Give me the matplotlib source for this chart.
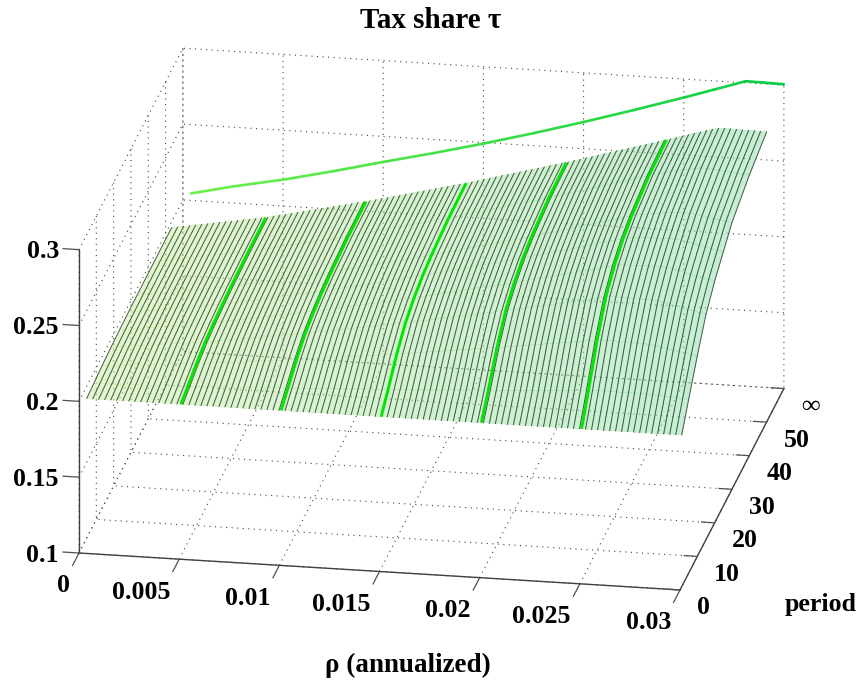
import numpy as np
import matplotlib
matplotlib.use("Agg")
import matplotlib.pyplot as plt
from matplotlib.colors import LinearSegmentedColormap
from matplotlib.transforms import Affine2D
from mpl_toolkits.mplot3d import proj3d

# ---- data ----
RHO_TICKS = [0, 0.005, 0.01, 0.015, 0.02, 0.025, 0.03]
RHO_LABELS = ["0", "0.005", "0.01", "0.015", "0.02", "0.025", "0.03"]
PERIOD_TICKS = [0, 10, 20, 30, 40, 50, 60]
PERIOD_LABELS = ["0", "10", "20", "30", "40", "50", "\u221e"]
TAU_TICKS = [0.1, 0.15, 0.2, 0.25, 0.3]
TAU_LABELS = ["0.1", "0.15", "0.2", "0.25", "0.3"]

PERIODS = [1, 5, 10, 15, 20, 25, 30, 40, 50]
RHO_MESH = [round(0.0003 * k, 4) for k in range(1, 101)]
# tau above 0.2, in units of 1e-4, one list per period, one entry per mesh line
RISE_P1 = [0] * 100
RISE_P5 = [8,9,11,12,13,15,16,17,19,20,21,23,24,25,27,28,30,31,33,35,37,38,40,42,44,45,47,49,51,52,54,56,58,59,61,63,65,67,69,71,73,75,77,79,81,83,85,87,89,91,93,95,97,99,101,103,105,108,110,112,114,116,118,120,122,125,127,129,131,134,136,138,140,143,145,147,149,152,154,156,159,161,163,165,166,166,166,166,166,166,166,165,163,161,159,156,154,151,149,146]
RISE_P10 = [19,22,25,28,31,35,38,41,44,47,50,54,57,60,63,66,70,74,78,82,86,90,94,98,102,107,111,115,119,123,127,132,135,140,144,149,153,158,163,167,172,176,181,185,190,195,199,204,208,213,218,223,228,233,238,243,248,253,258,263,268,273,278,283,288,293,298,303,308,314,319,324,330,335,341,346,351,357,362,368,373,378,384,389,388,388,387,385,384,383,380,378,372,365,358,351,344,337,330,323]
RISE_P15 = [27,32,36,41,46,50,54,59,64,69,73,78,82,86,91,96,101,107,113,118,124,131,137,142,148,154,160,167,172,178,184,190,196,202,209,216,222,228,235,242,248,255,262,268,275,282,288,294,301,308,316,322,330,337,344,352,358,366,373,380,388,394,402,409,416,424,430,439,446,454,462,469,477,485,493,500,508,516,524,532,539,547,555,562,563,563,562,561,560,560,558,555,547,538,529,519,511,502,493,484]
RISE_P20 = [32,38,42,48,54,59,64,70,75,81,86,91,97,102,107,113,118,126,133,139,146,154,161,167,174,182,189,196,202,210,217,224,230,238,246,254,261,269,277,285,292,300,308,315,323,331,339,346,354,362,371,379,388,396,405,414,422,430,439,447,456,464,473,482,490,498,506,516,525,534,543,552,562,570,580,589,598,607,616,626,634,643,653,662,664,665,665,666,666,667,666,665,657,648,639,629,620,612,602,593]
RISE_P25 = [35,41,47,53,59,65,70,77,83,89,94,100,106,112,118,124,130,138,146,153,161,169,177,184,192,200,208,216,223,231,238,246,253,261,270,279,287,296,304,313,321,330,339,347,356,364,373,381,390,399,408,417,427,436,445,455,464,473,483,492,502,510,520,530,539,548,557,568,577,588,598,607,618,627,638,648,657,668,678,688,698,708,718,728,731,734,736,739,740,742,744,743,735,728,719,710,701,693,685,676]
RISE_P30 = [37,44,49,56,62,69,74,81,87,94,100,106,113,118,125,131,138,146,154,162,170,179,187,194,203,211,219,228,235,244,252,260,268,276,286,295,303,312,322,331,339,349,358,366,376,385,394,403,412,421,432,441,451,460,471,481,490,500,511,520,530,539,550,560,569,579,589,600,610,621,631,642,653,663,674,684,695,706,716,727,737,748,759,769,775,781,785,791,796,801,804,807,802,797,790,783,777,771,764,758]
RISE_P40 = [39,46,52,59,66,73,79,86,93,99,105,112,119,125,132,139,146,155,164,171,180,189,198,206,215,224,232,241,249,258,267,276,284,293,302,312,321,331,341,351,360,369,379,388,398,408,418,427,436,446,457,467,478,488,498,509,519,530,541,551,561,571,582,593,603,614,624,635,646,658,669,680,691,702,714,725,736,748,758,770,781,792,804,815,824,832,840,850,857,866,873,878,877,873,869,865,861,858,854,849]
RISE_P50 = [40,47,53,60,67,74,80,87,94,101,107,114,121,127,134,141,148,157,166,174,183,192,201,209,218,227,236,245,253,262,271,280,288,297,307,317,326,336,346,356,365,375,385,394,404,414,424,433,443,453,464,474,485,495,506,517,527,538,549,559,570,580,591,602,612,623,633,645,656,668,679,690,702,713,725,736,747,759,770,782,793,804,816,827,839,851,862,874,885,897,908,917,918,918,917,916,915,915,914,913]

# highlighted paths at fixed rho: rise over 0.2 in 1e-4 at PERIODS
PATH_RHO = [0.005, 0.01, 0.015, 0.02, 0.025]
PATH_005 = [0, 29, 68, 99, 116, 128, 135, 143, 145]
PATH_010 = [0, 58, 137, 198, 233, 256, 271, 287, 291]
PATH_015 = [0, 91, 213, 308, 362, 399, 421, 446, 453]
PATH_020 = [0, 126, 296, 428, 504, 554, 586, 621, 630]
PATH_025 = [0, 164, 385, 558, 656, 722, 763, 808, 820]

# steady state (period = infinity)
RHO_INF = [0.0004, 0.0025, 0.0051, 0.0075, 0.00998, 0.0125, 0.015, 0.0175, 0.02, 0.0225, 0.025, 0.0265, 0.0281, 0.0290, 0.03]
TAU_INF = [0.2046, 0.2109, 0.2177, 0.2250, 0.2331, 0.2410, 0.2493, 0.2582, 0.2676, 0.2775, 0.2878, 0.2942, 0.3011, 0.3009, 0.3006]
PERIOD_INF = 60

W, H = 861, 686
plt.rcParams["font.family"] = ["Liberation Serif", "DejaVu Serif"]
plt.rcParams["font.weight"] = "bold"
plt.rcParams["lines.dotted_pattern"] = [1, 4]
plt.rcParams["grid.linestyle"] = ":"
plt.rcParams["grid.color"] = "#444444"
plt.rcParams["grid.linewidth"] = 0.8

fig = plt.figure(figsize=(W / 100, H / 100), dpi=100, facecolor="white")
pos = [-0.5, -0.5, 2.0, 2.0]
ax = fig.add_axes(pos, projection="3d", computed_zorder=False)
ax.set_proj_type("ortho")
ax.view_init(elev=20.2, azim=-79.9)
ASPECT = (610, 592, 323)
ax.set_box_aspect(ASPECT, zoom=1.0)
ax.set_xlim(0, 0.03, view_margin=0)
ax.set_ylim(0, 60, view_margin=0)
ax.set_zlim(0.1, 0.3, view_margin=0)
ax.patch.set_alpha(0)

# surface
R, P = np.meshgrid(RHO_MESH, PERIODS)
RISE = np.array([RISE_P1, RISE_P5, RISE_P10, RISE_P15, RISE_P20, RISE_P25, RISE_P30, RISE_P40, RISE_P50], float)
T = 0.2 + RISE * 1e-4
face_cmap = LinearSegmentedColormap.from_list("face", ["#c4f0a0", "#8de0a8"])
fc = face_cmap((R - R.min()) / (R.max() - R.min()))
fc[..., 3] = 0.5
ax.plot_surface(R, P, T, facecolors=fc, rstride=1, cstride=1, shade=False,
                antialiased=False, linewidth=0, zorder=1)
for j, r in enumerate(RHO_MESH):
    ax.plot([r] * len(PERIODS), PERIODS, T[:, j], color="#101010", lw=0.75, alpha=0.65, zorder=2)
for r, rise in zip(PATH_RHO, [PATH_005, PATH_010, PATH_015, PATH_020, PATH_025]):
    ax.plot([r] * len(PERIODS), PERIODS, 0.2 + np.array(rise) * 1e-4,
            color="#00e600", lw=2.1, solid_capstyle="butt", zorder=3)

line_cmap = LinearSegmentedColormap.from_list("inf", ["#6cf04a", "#00cc44"])
for i in range(len(RHO_INF) - 1):
    ax.plot(RHO_INF[i:i + 2], [PERIOD_INF] * 2, TAU_INF[i:i + 2],
            color=line_cmap(RHO_INF[i] / 0.03), lw=1.9, solid_capstyle="round", zorder=4)

# axes
ax.set_xticks(RHO_TICKS, RHO_LABELS)
ax.set_yticks(PERIOD_TICKS, PERIOD_LABELS)
ax.set_zticks(TAU_TICKS, TAU_LABELS)
ax.zaxis.set_ticks_position("lower")
ax.zaxis._get_tickdir = lambda position: 0  # z ticks point along the rho axis
for axis, factor in ((ax.xaxis, -0.77), (ax.yaxis, 0.27), (ax.zaxis, 0.33)):
    axis.pane.set_visible(False)
    axis.line.set_color("#404040")
    axis.line.set_linewidth(1.0)
    info = axis._axinfo
    info["tick"]["outward_factor"] = factor
    info["tick"]["inward_factor"] = 0.0
    info["tick"]["linewidth"] = {True: 0.9, False: 0.9}
    info["grid"]["linestyle"] = ":"
    info["grid"]["linewidth"] = 0.8
    info["grid"]["color"] = "#444444"
    axis.set_tick_params(labelsize=18.6, colors="black", color="#505050")

fig.suptitle("Tax share \u03c4", x=431 / W, y=1 - 20 / H, fontsize=21, fontweight="bold", va="center")
fig.text(408 / W, 1 - 665 / H, "\u03c1 (annualized)", fontsize=19.5, fontweight="bold", ha="center", va="center")
fig.text(821 / W, 1 - 605 / H, "period", fontsize=18.6, fontweight="bold", ha="center", va="center")


def screen(x, y, z):
    xs, ys, _ = proj3d.proj_transform(x, y, z, ax.get_proj())
    return ax.transData.transform((xs, ys))


# fit the box to the reference: size from the front edge, then shift
fig.canvas.draw()
x0 = screen(0, 0, 0.1)[0]
x1 = screen(0.03, 0, 0.1)[0]
ax.set_box_aspect(ASPECT, zoom=601 / (x1 - x0))
fig.canvas.draw()
ox, oy = screen(0, 0, 0.1)
pos[0] += (79 - ox) / W
pos[1] += ((H - 553) - oy) / H
ax.set_position(pos)
fig.canvas.draw()


def place_tick_labels(axis, bases, ha, dx, dy):
    """Shift each tick label to a fixed pixel offset from the base of its tick."""
    for tick, base in zip(axis.get_major_ticks(), bases):
        label = tick.label1
        label.set_ha(ha)
        label.set_va("center")
        px, py = ax.transData.transform(label.get_position())
        bx, by = screen(*base)
        label.set_transform(ax.transData + Affine2D().translate(bx + dx - px, by + dy - py))
        # Axis3D resets label transforms at draw time; keep this one
        label.set_transform = lambda _trans: None


place_tick_labels(ax.xaxis, [(v, 0, 0.1) for v in RHO_TICKS], "right", -9, -33)
place_tick_labels(ax.yaxis, [(0.03, v, 0.1) for v in PERIOD_TICKS], "left", 17, -18)
place_tick_labels(ax.zaxis, [(0, 0, v) for v in TAU_TICKS], "right", -20, -2)

fig.savefig("out.png", dpi=100)
